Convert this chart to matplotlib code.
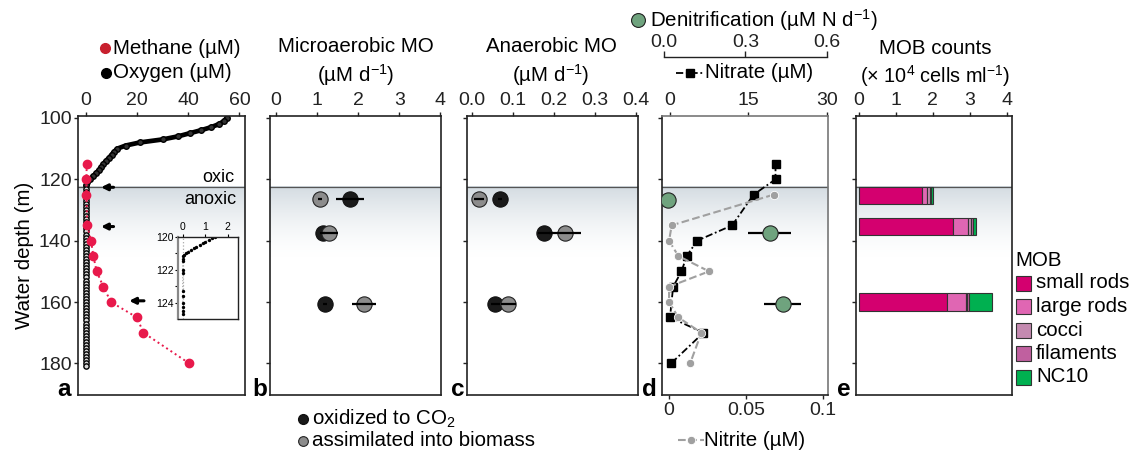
import numpy as np
import matplotlib
matplotlib.use("Agg")
import matplotlib.pyplot as plt

plt.rcParams["font.family"] = ["Liberation Sans", "DejaVu Sans"]
plt.rcParams["mathtext.fontset"] = "custom"
plt.rcParams["mathtext.rm"] = "Liberation Sans"
plt.rcParams["mathtext.it"] = "Liberation Sans:italic"

# --- data ---
OXIC = 122.5
DEPTH_TICKS = [100, 120, 140, 160, 180]

o2_depth = list(range(100, 182))
o2_conc = [55, 54, 52, 49, 45, 40.5, 36, 30, 21, 15.5, 12.3, 11, 10, 9, 7.8, 6.8, 6, 5, 4, 2.8,
           1.6, 0.6, 0.2, 0.1, 0.1, 0.1, 0, 0, 0.1, 0, 0, 0, 0.1, 0, 0, 0, 0, 0, 0.1, 0,
           0, 0, 0, 0, 0, 0.1, 0, 0, 0, 0, 0, 0, 0, 0, 0, 0, 0, 0, 0.1, 0,
           0, 0, 0, 0, 0, 0, 0, 0, 0, 0, 0, 0, 0, 0, 0, 0, 0, 0, 0, 0,
           0, 0]

ch4_depth = [115, 120, 125, 135, 140, 145, 150, 155, 160, 165, 170, 180]
ch4_conc = [0.3, 0.2, 0.2, 0.5, 2.0, 2.9, 4.2, 6.8, 9.8, 19.9, 22.5, 40.4]

inset_depth = [120.0, 120.1, 120.2, 120.3, 120.4, 120.5, 120.6, 120.7, 120.8, 120.9, 121.0,
               121.1, 121.2, 121.35, 121.5, 122.0, 122.2, 123.3, 123.6, 124.0, 124.3, 124.5, 124.7]
inset_o2 = [1.45, 1.3, 1.15, 1.0, 0.88, 0.75, 0.6, 0.48, 0.35, 0.22, 0.12,
            0.06, 0.03, 0.01, 0.0, 0, 0, 0, 0, 0, 0, 0, 0]

arrow_depth = [122.6, 135.4, 159.6]
arrow_tip = [5.9, 5.9, 16.9]
arrow_tail = [10.8, 10.8, 22.7]

rate_depth = [126.5, 137.5, 160.5]
micro_ox = [1.80, 1.15, 1.20]
micro_ox_err = [0.34, 0.05, 0.05]
micro_bio = [1.06, 1.30, 2.14]
micro_bio_err = [0.05, 0.22, 0.30]

ana_ox = [0.069, 0.177, 0.058]
ana_ox_err = [0.004, 0.015, 0.01]
ana_bio = [0.018, 0.227, 0.089]
ana_bio_err = [0.012, 0.04, 0.018]

denit_depth = [126.6, 137.4, 160.6]
denit_rate = [0.016, 0.39, 0.438]
denit_err = [0.004, 0.08, 0.068]

no3_depth = [115, 120, 125, 135, 140, 145, 150, 155, 165, 170, 180]
no3_conc = [20.2, 20.2, 16.0, 11.9, 5.2, 3.2, 2.2, 0.6, 0.0, 6.4, 0.2]

no2_depth = [125, 135, 140, 145, 150, 155, 160, 165, 170, 180]
no2_conc = [0.068, 0.0017, 0.0, 0.006, 0.026, 0.0, 0.0, 0.006, 0.021, 0.0137]

mob_depth = [125.4, 135.5, 160.0]
mob_groups = ["small rods", "large rods", "cocci", "filaments", "NC10"]
small_rods = [1.72, 2.54, 2.38]
large_rods = [0.13, 0.42, 0.52]
cocci = [0.07, 0.09, 0.03]
filaments = [0.04, 0.04, 0.05]
nc10 = [0.05, 0.07, 0.62]
mob_colors = ["#D4006F", "#E066B3", "#C48AB0", "#C0609F", "#00B050"]

TICK_FS = 14
TITLE_FS = 14.8
LEG_FS = 14.8

W, H = 1135, 454
fig = plt.figure(figsize=(W / 100, H / 100), dpi=100)


def add_ax(left, right, top=115.5, bottom=395):
    return fig.add_axes([left / W, 1 - bottom / H, (right - left) / W, (bottom - top) / H])


def style(ax, xticks, xlim, xlabels=None, ylabels=False):
    ax.set_xlim(*xlim)
    ax.set_ylim(190.3, 99.2)
    ax.set_xticks(xticks)
    if xlabels is not None:
        ax.set_xticklabels(xlabels)
    ax.set_yticks(DEPTH_TICKS)
    if not ylabels:
        ax.set_yticklabels([])
    ax.xaxis.set_ticks_position("top")
    ax.tick_params(axis="x", direction="out", length=3, width=1, labelsize=TICK_FS, pad=2, colors="#222")
    ax.tick_params(axis="y", direction="out", length=3, width=1, labelsize=TICK_FS, pad=1.5, colors="#222")
    for s in ax.spines.values():
        s.set_linewidth(1.2)
        s.set_color("#222")


def shade(ax, x0, x1):
    t = np.linspace(0, 1, 200)[:, None]
    rgba = np.zeros((200, 1, 4))
    rgba[..., 0] = 0.83
    rgba[..., 1] = 0.86
    rgba[..., 2] = 0.885
    rgba[..., 3] = (1 - t) ** 1.6
    ax.imshow(rgba, extent=(x0, x1, 146, OXIC), aspect="auto", zorder=0, interpolation="bilinear")
    ax.axhline(OXIC, color="#555", lw=0.9, zorder=1)


# --- a: methane and oxygen ---
ax_a = add_ax(78, 244.5)
shade(ax_a, -3.1, 62)
up_c = [c for c, d in zip(o2_conc, o2_depth) if d <= 122]
up_d = [d for d in o2_depth if d <= 122]
lo_c = [c for c, d in zip(o2_conc, o2_depth) if d > 122]
lo_d = [d for d in o2_depth if d > 122]
ax_a.plot(up_c, up_d, color="k", lw=3.4, marker="o", ms=4, mfc="#333", mec="k", zorder=2)
ax_a.plot(lo_c, lo_d, ls="none", marker="o", ms=3.8, mfc="#d8d8d8", mec="k", mew=1, zorder=3)
ax_a.plot(ch4_conc, ch4_depth, ls=":", color="#E8194B", lw=1.4, marker="o", ms=6,
          mec="#E8194B", zorder=4)
for d, tip, tail in zip(arrow_depth, arrow_tip, arrow_tail):
    ax_a.annotate("", xy=(tip, d), xytext=(tail, d),
                  arrowprops=dict(arrowstyle="-|>", color="k", lw=2.2, mutation_scale=9,
                                  shrinkA=0, shrinkB=0))
ax_a.text(58.2, 119.4, "oxic", ha="right", va="center", fontsize=13)
ax_a.text(59.0, 126.6, "anoxic", ha="right", va="center", fontsize=13)
style(ax_a, [0, 20, 40, 60], (-3.1, 62), ylabels=True)

ax_in = fig.add_axes([178.3 / W, 1 - 319 / H, 59.4 / W, 82.3 / H])
ax_in.axvline(0, color="#aaa", ls=":", lw=0.9)
ax_in.plot(inset_o2, inset_depth, ls=":", color="#999", lw=0.8, marker="o", ms=1.4,
           mfc="k", mec="k")
ax_in.set_xlim(-0.2, 2.44)
ax_in.set_ylim(125, 120)
ax_in.set_xticks([0, 1, 2])
ax_in.set_yticks([120, 122, 124])
ax_in.set_yticks([121, 123], minor=True)
ax_in.xaxis.set_ticks_position("top")
ax_in.tick_params(which="both", direction="out", length=2.5, width=0.8, labelsize=7.5, pad=1)
for s in ax_in.spines.values():
    s.set_linewidth(1.0)
    s.set_color("#222")
ax_in.spines["left"].set_color("#888")
ax_in.spines["left"].set_linewidth(1.6)

# --- b: microaerobic MO ---
ax_b = add_ax(270, 441)
shade(ax_b, -0.15, 4.02)
ax_b.plot(micro_ox, rate_depth, "o", ms=11, mfc="#1a1a1a", mec="#111", mew=0.8, zorder=3)
ax_b.plot(micro_bio, rate_depth, "o", ms=11, mfc="#8c8c8c", mec="#222", mew=0.8, zorder=3)
ax_b.errorbar(micro_ox, rate_depth, xerr=micro_ox_err, fmt="none", ecolor="k", elinewidth=1.6,
              capsize=0, zorder=4)
ax_b.errorbar(micro_bio, rate_depth, xerr=micro_bio_err, fmt="none", ecolor="k", elinewidth=1.6,
              capsize=0, zorder=4)
style(ax_b, [0, 1, 2, 3, 4], (-0.15, 4.02))

# --- c: anaerobic MO ---
ax_c = add_ax(466.7, 637.7)
shade(ax_c, -0.012, 0.404)
ax_c.plot(ana_ox, rate_depth, "o", ms=11, mfc="#1a1a1a", mec="#111", mew=0.8, zorder=3)
ax_c.plot(ana_bio, rate_depth, "o", ms=11, mfc="#8c8c8c", mec="#222", mew=0.8, zorder=3)
ax_c.errorbar(ana_ox, rate_depth, xerr=ana_ox_err, fmt="none", ecolor="k", elinewidth=1.6,
              capsize=0, zorder=4)
ax_c.errorbar(ana_bio, rate_depth, xerr=ana_bio_err, fmt="none", ecolor="k", elinewidth=1.6,
              capsize=0, zorder=4)
style(ax_c, [0, 0.1, 0.2, 0.3, 0.4], (-0.012, 0.404), ["0.0", "0.1", "0.2", "0.3", "0.4"])

# --- d: nitrate, nitrite, denitrification ---
ax_d = add_ax(661.7, 828)
shade(ax_d, -1.59, 30.25)
ax_d.plot(no3_conc, no3_depth, color="k", ls=(0, (4, 1.5, 1, 1.5)), lw=1.3, marker="s", ms=5.5,
          zorder=3)
style(ax_d, [0, 15, 30], (-1.59, 30.25))
ax_d.spines["right"].set_color("#777")
ax_d.spines["top"].set_color("#777")

ax_no2 = ax_d.twiny()
ax_no2.plot(no2_conc, no2_depth, color="#a0a0a0", ls="--", lw=1.5, marker="o", ms=6,
            mec="white", mew=0.6, zorder=3)
ax_no2.set_xlim(-0.0048, 0.1034)
ax_no2.set_xticks([0, 0.05, 0.1])
ax_no2.set_xticklabels(["0", "0.05", "0.1"])
ax_no2.xaxis.set_ticks_position("bottom")
ax_no2.xaxis.set_label_position("bottom")
ax_no2.tick_params(axis="x", direction="out", length=3, width=1, labelsize=TICK_FS, pad=2,
                   colors="#222")
for s in ax_no2.spines.values():
    s.set_visible(False)

ax_dn = ax_d.twiny()
ax_dn.errorbar(denit_rate, denit_depth, xerr=denit_err, fmt="o", ms=11, mfc="#6FA37E", mec="#222",
               mew=0.8, ecolor="k", elinewidth=1.6, capsize=0, zorder=4)
ax_dn.set_xlim(-0.0085, 0.605)
ax_dn.set_xticks([0, 0.3, 0.6])
ax_dn.set_xticklabels(["0.0", "0.3", "0.6"])
for k in ["left", "right", "bottom"]:
    ax_dn.spines[k].set_visible(False)
ax_dn.spines["top"].set_position(("outward", 42))
ax_dn.spines["top"].set_bounds(0, 0.6)
ax_dn.spines["top"].set_linewidth(1.0)
ax_dn.spines["top"].set_color("#222")
ax_dn.tick_params(axis="x", direction="out", length=4, width=1, labelsize=TICK_FS, pad=0.5,
                  colors="#222")

# twiny moves the host ticks to the bottom; put nitrate back on top
ax_d.xaxis.set_ticks_position("top")
ax_d.tick_params(axis="x", top=True, labeltop=True, bottom=False, labelbottom=False)
ax_d.set_ylim(190.3, 99.2)

# --- e: MOB counts ---
ax_e = add_ax(856, 1011.7)
shade(ax_e, -0.08, 4.14)
mob = np.array([small_rods, large_rods, cocci, filaments, nc10])
lefts = np.vstack([np.zeros(3), np.cumsum(mob, axis=0)[:-1]])
for vals, left, col in zip(mob, lefts, mob_colors):
    ax_e.barh(mob_depth, vals, left=left, height=5.6, color=col, edgecolor="#333", lw=0.8, zorder=3)
style(ax_e, [0, 1, 2, 3, 4], (-0.08, 4.14))

# --- overlay for titles, legends and panel letters (pixel coordinates) ---
ov = fig.add_axes([0, 0, 1, 1])
ov.set_xlim(0, W)
ov.set_ylim(H, 0)
ov.axis("off")
ov.patch.set_alpha(0)

ov.plot(105, 48, "o", ms=7, color="#C8202E")
ov.text(113, 48, "Methane (µM)", va="center", fontsize=LEG_FS)
ov.plot(106, 73, "o", ms=7, color="k")
ov.text(113, 73, "Oxygen (µM)", va="center", fontsize=LEG_FS)

ov.text(356, 47, "Microaerobic MO", ha="center", va="center", fontsize=TITLE_FS)
ov.text(356, 75, "(µM d$^{-1}$)", ha="center", va="center", fontsize=TITLE_FS)
ov.text(551, 47, "Anaerobic MO", ha="center", va="center", fontsize=TITLE_FS)
ov.text(551, 75, "(µM d$^{-1}$)", ha="center", va="center", fontsize=TITLE_FS)
ov.text(935, 49, "MOB counts", ha="center", va="center", fontsize=TITLE_FS)
ov.text(935, 76, "(× 10$^{4}$ cells ml$^{-1}$)", ha="center", va="center", fontsize=14.3)

ov.plot(638, 20, "o", ms=10, mfc="#6FA37E", mec="#222", mew=0.8)
ov.text(650, 20, "Denitrification (µM N d$^{-1}$)", va="center", fontsize=LEG_FS)
ov.plot([676, 703], [73, 73], color="k", ls=(0, (4, 1.5, 1, 1.5)), lw=1.3)
ov.plot(690, 73, "s", ms=5.5, color="k")
ov.text(705, 73, "Nitrate (µM)", va="center", fontsize=LEG_FS)
ov.plot([678, 704], [440, 440], color="#a0a0a0", ls="--", lw=1.5)
ov.plot(691, 440, "o", ms=6, color="#a0a0a0", mec="white", mew=0.6)
ov.text(704, 440, "Nitrite (µM)", va="center", fontsize=LEG_FS)

ov.plot(303, 419, "o", ms=7, mfc="#1a1a1a", mec="#111")
ov.text(312, 419, "oxidized to CO$_2$", va="center", fontsize=LEG_FS)
ov.plot(303, 441, "o", ms=7, mfc="#8c8c8c", mec="#222", mew=0.8)
ov.text(312, 441, "assimilated into biomass", va="center", fontsize=LEG_FS)

ov.text(1015, 260, "MOB", va="center", fontsize=LEG_FS)
for i, (name, col) in enumerate(zip(mob_groups, mob_colors)):
    y = 283 + i * 23.5
    ov.add_patch(plt.Rectangle((1015.5, y - 7.5), 15, 15, facecolor=col, edgecolor="#333", lw=0.8))
    ov.text(1036, y, name, va="center", fontsize=LEG_FS)

for letter, x in zip("abcde", [71, 267, 464, 657, 851]):
    ov.text(x, 396, letter, ha="right", va="baseline", fontsize=17.5, fontweight="bold")

ov.text(25, 255, "Water depth (m)", rotation=90, ha="center", va="center", fontsize=TITLE_FS)

fig.savefig("out.png", dpi=100)
